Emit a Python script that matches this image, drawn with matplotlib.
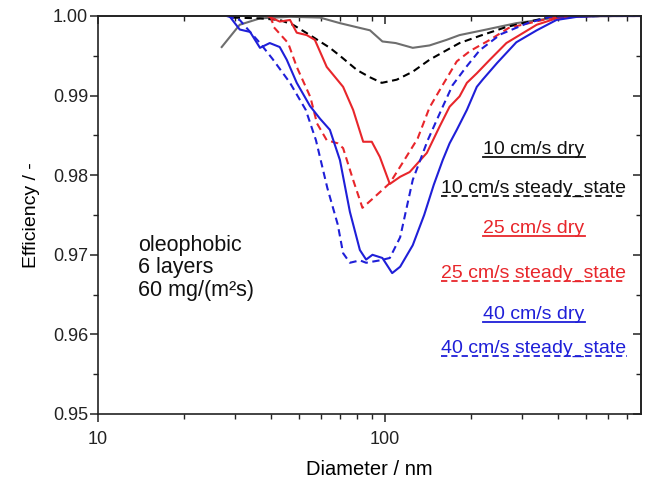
import numpy as np
import matplotlib
matplotlib.use('Agg')
import matplotlib.pyplot as plt
from matplotlib import ticker
from matplotlib.lines import Line2D

plt.rcParams['font.family'] = ['Liberation Sans', 'DejaVu Sans']

# 10 cm/s dry
d_10_dry = [27, 31.2, 36.7, 46.7, 59.4, 69.7, 81.8, 88.7, 98, 109, 125, 143, 164, 182, 219, 287, 376, 488, 659, 780]
e_10_dry = [0.9961, 0.9989, 0.9997, 0.9999, 0.9998, 0.9991, 0.9985, 0.9982, 0.9968, 0.9966, 0.9960, 0.9963,
            0.9970, 0.9976, 0.9982, 0.9991, 0.9997, 0.99995, 1.0, 1.0]
# 10 cm/s steady state
d_10_ss = [29.5, 36.7, 43, 47.8, 54.8, 64.3, 69.7, 80, 88.7, 97.5, 110, 125, 143, 164, 182, 214, 264, 376, 561, 780]
e_10_ss = [0.9998, 0.9997, 0.9995, 0.9989, 0.9976, 0.9960, 0.9950, 0.9932, 0.9923, 0.9916, 0.9920, 0.9930,
           0.9945, 0.9957, 0.9966, 0.9975, 0.9986, 0.9999, 1.0, 1.0]
# 25 cm/s dry
d_25_dry = [39, 43, 46.7, 49.3, 53.4, 57, 62.7, 71.5, 77.5, 84, 90, 96, 104, 113, 122, 140, 155, 168, 182,
            193, 209, 232, 265, 338, 396, 488, 780]
e_25_dry = [1.0, 0.9993, 0.9995, 0.9979, 0.9976, 0.9970, 0.9936, 0.9911, 0.9882, 0.9842, 0.9842, 0.9823,
            0.9789, 0.9798, 0.9804, 0.9828, 0.9861, 0.9886, 0.9899, 0.9916, 0.9928, 0.9945, 0.9966, 0.9989,
            0.9997, 1.0, 1.0]
# 25 cm/s steady state
d_25_ss = [40, 41, 46, 49.3, 55, 58, 62.7, 68.5, 71.5, 77.5, 83.5, 91, 104, 115, 130, 143, 160, 178, 198,
           232, 270, 396, 561, 780]
e_25_ss = [1.0, 0.9986, 0.9966, 0.9936, 0.9898, 0.9865, 0.9844, 0.9840, 0.9834, 0.9794, 0.9759, 0.9771,
           0.9790, 0.9815, 0.9846, 0.9885, 0.9915, 0.9943, 0.9956, 0.9970, 0.9985, 0.9999, 1.0, 1.0]
# 40 cm/s dry
d_40_dry = [28.7, 31.2, 33.9, 36.7, 39.7, 43, 45.5, 49.3, 54.8, 59.4, 64.3, 69.7, 75.5, 81.8, 86, 90.5, 98,
            106, 113, 125, 137, 148, 159, 168, 178, 193, 209, 219, 246, 287, 338, 396, 468, 561, 780]
e_40_dry = [1.0, 0.9983, 0.9980, 0.9960, 0.9966, 0.9961, 0.9945, 0.9916, 0.9887, 0.9871, 0.9857, 0.9819,
            0.9754, 0.9706, 0.9694, 0.9700, 0.9696, 0.9677, 0.9685, 0.9712, 0.9750, 0.9788, 0.9819, 0.9840,
            0.9857, 0.9882, 0.9911, 0.9920, 0.9941, 0.9967, 0.9982, 0.9995, 0.9999, 1.0, 1.0]
# 40 cm/s steady state
d_40_ss = [28.1, 31.2, 33.9, 36.7, 40.6, 46.7, 53, 57.5, 63, 68.5, 71.5, 75.5, 81.8, 86, 96, 104, 113, 125,
           141, 159, 172, 192, 214, 253, 314, 376, 561, 780]
e_40_ss = [1.0, 0.9995, 0.9980, 0.9966, 0.9946, 0.9916, 0.9882, 0.9844, 0.9784, 0.9738, 0.9702, 0.9690,
           0.9693, 0.9690, 0.9693, 0.9696, 0.9722, 0.9794, 0.9844, 0.9886, 0.9913, 0.9936, 0.9957, 0.9977,
           0.9991, 0.9999, 1.0, 1.0]

red = '#e8262b'
blue = '#1f1fd8'
gray = '#6e6e6e'
series = [
    (d_10_dry, e_10_dry, gray, '-', '10 cm/s dry'),
    (d_10_ss, e_10_ss, 'black', '--', '10 cm/s steady_state'),
    (d_25_dry, e_25_dry, red, '-', '25 cm/s dry'),
    (d_25_ss, e_25_ss, red, '--', '25 cm/s steady_state'),
    (d_40_dry, e_40_dry, blue, '-', '40 cm/s dry'),
    (d_40_ss, e_40_ss, blue, '--', '40 cm/s steady_state'),
]

fig = plt.figure(figsize=(6.57, 4.8), dpi=100)
ax = fig.add_axes([0.149, 0.1375, 0.8266, 0.8292])

for d, e, c, ls, lab in series:
    line, = ax.plot(d, e, color=c, ls=ls, lw=1.5)
    if ls == '--':
        line.set_dashes((3.5, 2.2))

ax.set_xscale('log')
ax.set_xlim(10, 780)
ax.set_ylim(0.95, 1.0)
ax.xaxis.set_major_locator(ticker.FixedLocator([10, 100]))
ax.xaxis.set_major_formatter(ticker.FuncFormatter(lambda v, p: f'{v:g}'))
ax.xaxis.set_minor_locator(ticker.LogLocator(base=10, subs=np.arange(2, 10)))
ax.xaxis.set_minor_formatter(ticker.NullFormatter())
ax.yaxis.set_major_locator(ticker.MultipleLocator(0.01))
ax.yaxis.set_major_formatter(ticker.FormatStrFormatter('%.2f'))
ax.yaxis.set_minor_locator(ticker.MultipleLocator(0.005))

ax.tick_params(which='major', direction='out', length=6, width=1.1, labelsize=13, colors='#222222')
ax.tick_params(which='minor', direction='out', length=3.5, width=1.0, colors='#222222')
ax.tick_params(axis='y', which='major', pad=1)
ax.tick_params(axis='x', which='major', pad=6)
for s in ax.spines.values():
    s.set_linewidth(1.2)
    s.set_color('#222222')

# mirrored ticks pointing inward on top and right
top = ax.secondary_xaxis('top')
top.xaxis.set_major_locator(ticker.FixedLocator([10, 100]))
top.xaxis.set_minor_locator(ticker.LogLocator(base=10, subs=np.arange(2, 10)))
top.xaxis.set_major_formatter(ticker.NullFormatter())
top.xaxis.set_minor_formatter(ticker.NullFormatter())
top.tick_params(which='major', direction='in', length=6, width=1.1, colors='#222222')
top.tick_params(which='minor', direction='in', length=3.5, width=1.0, colors='#222222')
right = ax.secondary_yaxis('right')
right.yaxis.set_major_locator(ticker.MultipleLocator(0.01))
right.yaxis.set_minor_locator(ticker.MultipleLocator(0.005))
right.yaxis.set_major_formatter(ticker.NullFormatter())
right.tick_params(which='major', direction='in', length=6, width=1.1, colors='#222222')
right.tick_params(which='minor', direction='in', length=3.5, width=1.0, colors='#222222')
for sec in (top, right):
    for s in sec.spines.values():
        s.set_linewidth(1.2)
        s.set_color('#222222')

ax.set_xlabel('Diameter / nm', fontsize=14.5, labelpad=9)
ax.set_ylabel('Efficiency / -', fontsize=14, labelpad=9)

ax.text(0.0737, 0.367, 'oleophobic\n6 layers\n60 mg/(m²s)', transform=ax.transAxes,
        fontsize=15.5, va='center', ha='left', linespacing=1.1, color='#111111')

# legend: text with line sample as underline
leg_y = [0.664, 0.566, 0.467, 0.354, 0.251, 0.165]
texts = []
for (d, e, c, ls, lab), yy in zip(series, leg_y):
    tc = '#111111' if c in ('black', gray) else c
    t = ax.text(0.803, yy, lab, transform=ax.transAxes, ha='center', va='center',
                fontsize=14, color=tc)
    texts.append((t, c, ls))

fig.canvas.draw()
renderer = fig.canvas.get_renderer()
inv = fig.transFigure.inverted()
for t, c, ls in texts:
    bb = t.get_window_extent(renderer)
    (x0, y0), (x1, y1) = inv.transform([(bb.x0, bb.y0), (bb.x1, bb.y1)])
    lc = '#111111' if c in ('black', gray) else c
    ln = Line2D([x0, x1], [y0 + 0.002, y0 + 0.002], transform=fig.transFigure, color=lc, lw=1.3)
    if ls == '--':
        ln.set_dashes((3.5, 2.2))
    fig.add_artist(ln)

fig.savefig('out.png', dpi=100)
